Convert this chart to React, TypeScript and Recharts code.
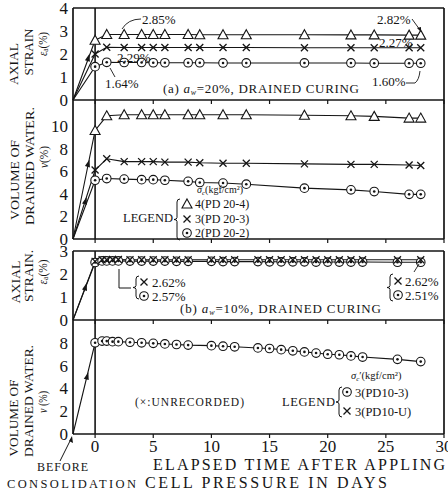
import React from "react";
import { LineChart, Line, XAxis, YAxis, ReferenceLine, ReferenceDot } from "recharts";

const FONT = "'Liberation Serif', 'DejaVu Serif', serif";
const INK = "#151515";

const BEFORE = -1.9;
const X_DOMAIN: [number, number] = [-1.9, 30];
const xTicks = [0, 5, 10, 15, 20, 25, 30];

// (a) a_w = 20%, drained curing
const aDays = [BEFORE, 0, 1, 2.5, 4, 5, 6, 8, 9, 11, 13, 18, 22, 24, 27, 28];
const aStrainPD204 = [0, 2.6, 2.85, 2.85, 2.85, 2.85, 2.85, 2.85, 2.84, 2.84, 2.84, 2.84, 2.83, 2.83, 2.82, 2.82];
const aStrainPD203 = [0, 2.0, 2.29, 2.28, 2.28, 2.28, 2.28, 2.28, 2.28, 2.28, 2.28, 2.27, 2.27, 2.27, 2.27, 2.27];
const aStrainPD202 = [0, 1.45, 1.64, 1.63, 1.63, 1.62, 1.62, 1.62, 1.62, 1.61, 1.61, 1.61, 1.61, 1.6, 1.6, 1.6];
const aWaterPD204 = [0, 9.6, 10.9, 11.0, 11.0, 11.0, 11.0, 11.0, 11.0, 11.0, 11.0, 10.95, 10.9, 10.85, 10.7, 10.7];
const aWaterPD203 = [0, 6.1, 7.1, 6.85, 6.85, 6.85, 6.8, 6.8, 6.75, 6.7, 6.7, 6.65, 6.6, 6.6, 6.55, 6.5];
const aWaterPD202 = [0, 5.2, 5.35, 5.3, 5.25, 5.25, 5.2, 5.1, 5.0, 4.95, 4.85, 4.5, 4.35, 4.2, 3.95, 3.95];

// (b) a_w = 10%, drained curing
const bDays = [BEFORE, 0, 0.6, 1, 1.5, 2, 3, 4, 5, 6, 7, 8, 10, 11, 12, 14, 15, 16, 17, 18, 19, 20, 21, 22, 23, 26, 28];
const bStrainPD10U = [0, 2.55, 2.62, 2.62, 2.63, 2.63, 2.62, 2.62, 2.62, 2.62, 2.62, 2.62, 2.62, 2.62, 2.62, 2.62, 2.62, 2.62, 2.62, 2.62, 2.62, 2.62, 2.62, 2.62, 2.62, 2.62, 2.62];
const bStrainPD103 = [0, 2.5, 2.57, 2.57, 2.57, 2.57, 2.56, 2.56, 2.56, 2.56, 2.55, 2.55, 2.55, 2.54, 2.54, 2.54, 2.53, 2.53, 2.53, 2.53, 2.52, 2.52, 2.52, 2.52, 2.52, 2.51, 2.51];
const bWaterPD103 = [0, 8.0, 8.15, 8.15, 8.1, 8.1, 8.05, 8.0, 7.95, 7.9, 7.85, 7.8, 7.75, 7.7, 7.65, 7.55, 7.5, 7.4, 7.3, 7.2, 7.1, 7.0, 6.95, 6.85, 6.75, 6.55, 6.35];

// loading-direction arrowheads on the ramp lines (day, value)
const aStrainArrows = [{ day: -0.6, v: 1.8 }];
const aWaterArrows = [{ day: -0.6, v: 6.6 }, { day: -0.85, v: 3.3 }];
const bStrainArrows = [{ day: -0.85, v: 1.4 }];
const bWaterArrows = [{ day: -0.7, v: 5.0 }];

const aStrainRows = aDays.map((day, i) => ({ day, s4: aStrainPD204[i], s3: aStrainPD203[i], s2: aStrainPD202[i] }));
const aWaterRows = aDays.map((day, i) => ({ day, w4: aWaterPD204[i], w3: aWaterPD203[i], w2: aWaterPD202[i] }));
const bStrainRows = bDays.map((day, i) => ({ day, su: bStrainPD10U[i], s3: bStrainPD103[i] }));
const bWaterRows = bDays.map((day, i) => ({ day, w3: bWaterPD103[i] }));

const Tri = ({ cx, cy }: { cx: number; cy: number }) => (
  <path d={`M${cx},${cy - 5} L${cx + 5},${cy + 4} L${cx - 5},${cy + 4} Z`} fill="#fff" stroke={INK} strokeWidth={1.1} />
);
const Cross = ({ cx, cy }: { cx: number; cy: number }) => (
  <path d={`M${cx - 3.5},${cy - 3.5} L${cx + 3.5},${cy + 3.5} M${cx - 3.5},${cy + 3.5} L${cx + 3.5},${cy - 3.5}`} stroke={INK} strokeWidth={1.3} fill="none" />
);
const Ring = ({ cx, cy }: { cx: number; cy: number }) => (
  <g>
    <circle cx={cx} cy={cy} r={4.3} fill="#fff" stroke={INK} strokeWidth={1.1} />
    <circle cx={cx} cy={cy} r={1.3} fill={INK} />
  </g>
);
const Arrow = (p: any) => (
  <path d="M0,-5 L2.6,2.5 L-2.6,2.5 Z" transform={`translate(${p.cx},${p.cy}) rotate(16)`} fill={INK} />
);

const dotOf = (Shape: any) => (p: any) => {
  const k = `d-${p.index}`;
  if (p.cx == null || (p.payload && p.payload.day < 0)) return <g key={k} />;
  return <Shape key={k} cx={p.cx} cy={p.cy} />;
};

const tickStyle = { fontSize: 17, fill: INK, fontFamily: FONT };
const blank = () => "";
const axisLine = { stroke: INK, strokeWidth: 1.7 };

function frame(yDomain: [number, number], yTicks: number[], rightTicks: number[], showX: boolean, xh: number, topBorder?: number) {
  const els: any[] = [
    <XAxis
      key="x"
      dataKey="day"
      type="number"
      domain={X_DOMAIN}
      ticks={xTicks}
      height={xh}
      tickSize={4}
      tickMargin={2}
      axisLine={axisLine}
      tickLine={{ stroke: INK, strokeWidth: 1.2 }}
      tick={tickStyle}
      tickFormatter={showX ? undefined : blank}
      interval={0}
    />,
    <YAxis
      key="yl"
      yAxisId="l"
      width={30}
      type="number"
      domain={yDomain}
      ticks={yTicks}
      tickSize={0}
      tickMargin={5}
      axisLine={axisLine}
      tick={tickStyle}
      interval={0}
    />,
    <YAxis
      key="yr"
      yAxisId="r"
      orientation="right"
      width={4}
      type="number"
      domain={yDomain}
      ticks={rightTicks}
      tickSize={4}
      tickMargin={0}
      axisLine={axisLine}
      tickLine={{ stroke: INK, strokeWidth: 1 }}
      tickFormatter={blank}
      interval={0}
    />,
    <ReferenceLine key="v0" yAxisId="l" x={0} stroke={INK} strokeWidth={1.6} />,
  ];
  if (topBorder !== undefined) {
    els.push(<ReferenceLine key="top" yAxisId="l" y={topBorder} stroke={INK} strokeWidth={1.7} />);
  }
  return els;
}

const lineProps = { type: "linear" as const, stroke: INK, strokeWidth: 1.1, isAnimationActive: false, activeDot: false, yAxisId: "l" };

const W = 448;

const RotText = ({ x, y, len, size = 12, children }: any) => (
  <text
    transform={`translate(${x},${y}) rotate(-90)`}
    textAnchor="middle"
    dominantBaseline="central"
    fontSize={size}
    textLength={len}
    lengthAdjust="spacingAndGlyphs"
  >
    {children}
  </text>
);

const Brace = ({ x, y1, y2 }: { x: number; y1: number; y2: number }) => {
  const ym = (y1 + y2) / 2;
  return (
    <path
      d={`M${x + 3},${y1} Q${x},${y1} ${x},${y1 + 3} L${x},${ym - 2} Q${x},${ym} ${x - 3},${ym} Q${x},${ym} ${x},${ym + 2} L${x},${y2 - 3} Q${x},${y2} ${x + 3},${y2}`}
      fill="none"
      stroke={INK}
      strokeWidth={1}
    />
  );
};

const Overlay = () => (
  <svg width={W} height={492} style={{ position: "absolute", left: 0, top: 0, pointerEvents: "none" }} fontFamily={FONT} fill={INK}>
    {/* y titles */}
    <RotText x={14} y={64} len={42}>AXIAL</RotText>
    <RotText x={29} y={52} len={47}>STRAIN</RotText>
    <RotText x={43} y={44} len={24}>
      <tspan fontStyle="italic">ε</tspan>
      <tspan fontSize={8} dy={2}>a</tspan>
      <tspan dy={-2}>(%)</tspan>
    </RotText>

    <RotText x={15} y={180} len={80}>VOLUME OF</RotText>
    <RotText x={30} y={166} len={118}>DRAINED WATER.</RotText>
    <RotText x={44} y={157} len={22}>
      <tspan fontStyle="italic">v</tspan>(%)
    </RotText>

    <RotText x={16} y={282} len={43}>AXIAL</RotText>
    <RotText x={29} y={276} len={52}>STRAIN.</RotText>
    <RotText x={43} y={272} len={25}>
      <tspan fontStyle="italic">ε</tspan>
      <tspan fontSize={8} dy={2}>a</tspan>
      <tspan dy={-2}>(%)</tspan>
    </RotText>

    <RotText x={14} y={418} len={77}>VOLUME OF</RotText>
    <RotText x={29} y={401} len={112}>DRAINED WATER.</RotText>
    <RotText x={43} y={402} len={22}>
      <tspan fontStyle="italic">v</tspan> (%)
    </RotText>

    {/* panel (a) strain annotations */}
    <text x={142} y={24} fontSize={13}>2.85%</text>
    <path d="M141,19 Q128,19 122,29" fill="none" stroke={INK} strokeWidth={0.9} />
    <text x={117} y={62} fontSize={13}>2.29%</text>
    <text x={105} y={88} fontSize={13}>1.64%</text>
    <path d="M115,77 L110,68" fill="none" stroke={INK} strokeWidth={0.9} />
    <text x={377} y={24} fontSize={13}>2.82%</text>
    <path d="M412,19 L420,30" fill="none" stroke={INK} strokeWidth={0.9} />
    <path d="M421,32 L417,28 L421,27 Z" fill={INK} />
    <text x={379} y={47} fontSize={13}>2.27%</text>
    <text x={372} y={86} fontSize={13}>1.60%</text>
    <path d="M406,83 L415,83 Q419,80 420,71" fill="none" stroke={INK} strokeWidth={0.9} />
    <text x={163} y={93} fontSize={13} textLength={196} lengthAdjust="spacing">
      (a)  <tspan fontStyle="italic">a</tspan>
      <tspan fontSize={8} fontStyle="italic" dy={2}>w</tspan>
      <tspan dy={-2}>=20%,  DRAINED CURING</tspan>
    </text>

    {/* panel (a) water legend */}
    <text x={197} y={193} fontSize={10}>
      <tspan fontStyle="italic">σ</tspan>
      <tspan fontSize={7} fontStyle="italic" dy={1.5}>c</tspan>
      <tspan dy={-1.5}>(kgf/cm²)</tspan>
    </text>
    <text x={123} y={222} fontSize={12.5} textLength={50} lengthAdjust="spacing">LEGEND</text>
    <Brace x={177} y1={199} y2={240} />
    <Tri cx={187} cy={204} />
    <Cross cx={187} cy={219} />
    <Ring cx={187} cy={233} />
    <text x={195} y={208} fontSize={12}>4(PD 20-4)</text>
    <text x={195} y={223} fontSize={12}>3(PD 20-3)</text>
    <text x={195} y={237} fontSize={12}>2(PD 20-2)</text>

    {/* panel (b) strain annotations */}
    <path d="M119,269 L119,288 L131,288" fill="none" stroke={INK} strokeWidth={1} />
    <Brace x={136} y1={276} y2={299} />
    <Cross cx={144} cy={282} />
    <text x={152} y={287} fontSize={13}>2.62%</text>
    <Ring cx={144} cy={296} />
    <text x={152} y={301} fontSize={13}>2.57%</text>
    <text x={180} y={313} fontSize={13} textLength={201} lengthAdjust="spacing">
      (b)  <tspan fontStyle="italic">a</tspan>
      <tspan fontSize={8} fontStyle="italic" dy={2}>w</tspan>
      <tspan dy={-2}>=10%,  DRAINED CURING</tspan>
    </text>
    <path d="M414,272 L419,264" fill="none" stroke={INK} strokeWidth={0.9} />
    <Brace x={390} y1={274} y2={301} />
    <Cross cx={398} cy={281} />
    <text x={405} y={286} fontSize={13}>2.62%</text>
    <Ring cx={398} cy={295} />
    <text x={405} y={300} fontSize={13}>2.51%</text>

    {/* panel (b) water annotations */}
    <text x={135} y={406} fontSize={11.5} textLength={109} lengthAdjust="spacing">(×:UNRECORDED)</text>
    <text x={351} y={379} fontSize={10.5}>
      <tspan fontStyle="italic">σ</tspan>
      <tspan fontSize={7} fontStyle="italic" dy={2}>c</tspan>
      <tspan dy={-2}>′(kgf/cm²)</tspan>
    </text>
    <text x={282} y={406} fontSize={12.5} textLength={53} lengthAdjust="spacing">LEGEND</text>
    <Brace x={339} y1={387} y2={417} />
    <Ring cx={347} cy={392} />
    <text x={355} y={397} fontSize={12.5}>3(PD10-3)</text>
    <Cross cx={347} cy={411} />
    <text x={355} y={416} fontSize={12.5}>3(PD10-U)</text>

    {/* bottom labels */}
    <path d="M60,461 L71,439" fill="none" stroke={INK} strokeWidth={1} />
    <path d="M72,436 L73,443 L69,441 Z" fill={INK} />
    <text x={37} y={471} fontSize={12} textLength={51} lengthAdjust="spacing">BEFORE</text>
    <text x={7} y={488} fontSize={12.5} textLength={129} lengthAdjust="spacing">CONSOLIDATION</text>
    <text x={153} y={470} fontSize={16} textLength={292} lengthAdjust="spacing">ELAPSED TIME AFTER APPLING</text>
    <text x={145} y={488} fontSize={16} textLength={242} lengthAdjust="spacing">CELL PRESSURE IN DAYS</text>
  </svg>
);

export default function App() {
  const m = (top: number) => ({ top, right: 0, bottom: 0, left: 43 });
  return (
    <div style={{ position: "absolute", left: 0, top: 0, width: W, height: 492, background: "#fff", fontFamily: FONT, overflow: "hidden" }}>
      {/* (a) axial strain */}
      <div style={{ position: "absolute", left: 0, top: 0 }}>
        <LineChart width={W} height={112} data={aStrainRows} margin={m(8)}>
          {frame([0, 4], [0, 1, 2, 3, 4], [1, 2, 3], false, 12, 4)}
          <Line {...lineProps} dataKey="s2" dot={dotOf(Ring)} />
          <Line {...lineProps} dataKey="s3" dot={dotOf(Cross)} />
          <Line {...lineProps} dataKey="s4" dot={dotOf(Tri)} />
          {aStrainArrows.map((a, i) => (
            <ReferenceDot key={i} yAxisId="l" x={a.day} y={a.v} r={0} shape={Arrow} />
          ))}
        </LineChart>
      </div>
      {/* (a) drained water */}
      <div style={{ position: "absolute", left: 0, top: 100 }}>
        <LineChart width={W} height={151} data={aWaterRows} margin={m(0)}>
          {frame([0, 12.3], [0, 2, 4, 6, 8, 10], [2, 4, 6, 8, 10], false, 12)}
          <Line {...lineProps} dataKey="w2" dot={dotOf(Ring)} />
          <Line {...lineProps} dataKey="w3" dot={dotOf(Cross)} />
          <Line {...lineProps} dataKey="w4" dot={dotOf(Tri)} />
          {aWaterArrows.map((a, i) => (
            <ReferenceDot key={i} yAxisId="l" x={a.day} y={a.v} r={0} shape={Arrow} />
          ))}
        </LineChart>
      </div>
      {/* (b) axial strain */}
      <div style={{ position: "absolute", left: 0, top: 243 }}>
        <LineChart width={W} height={89} data={bStrainRows} margin={m(8)}>
          {frame([0, 3], [0, 1, 2, 3], [1, 2], false, 12, 3)}
          <Line {...lineProps} dataKey="s3" dot={dotOf(Ring)} />
          <Line {...lineProps} dataKey="su" dot={dotOf(Cross)} />
          {bStrainArrows.map((a, i) => (
            <ReferenceDot key={i} yAxisId="l" x={a.day} y={a.v} r={0} shape={Arrow} />
          ))}
        </LineChart>
      </div>
      {/* (b) drained water */}
      <div style={{ position: "absolute", left: 0, top: 320 }}>
        <LineChart width={W} height={144} data={bWaterRows} margin={m(0)}>
          {frame([0, 10], [0, 2, 4, 6, 8], [2, 4, 6, 8], true, 30)}
          <Line {...lineProps} dataKey="w3" dot={dotOf(Ring)} />
          {bWaterArrows.map((a, i) => (
            <ReferenceDot key={i} yAxisId="l" x={a.day} y={a.v} r={0} shape={Arrow} />
          ))}
        </LineChart>
      </div>
      <Overlay />
    </div>
  );
}
